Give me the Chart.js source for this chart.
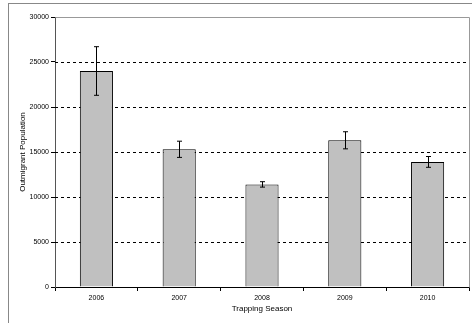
<!DOCTYPE html>
<html>
<head>
<meta charset="utf-8">
<script src="https://cdn.jsdelivr.net/npm/chart.js@4"></script>
<style>
  body { margin: 0; background: #fff; }
  #wrap { position: relative; width: 472px; height: 323px; }
  #frame { position: absolute; left: 8px; top: 3px; right: 0; bottom: 0;
           border-left: 1px solid #888; border-top: 1px solid #888; }
  canvas { position: absolute; left: 0; top: 0; }
</style>
</head>
<body>
<div id="wrap">
  <div id="frame"></div>
  <canvas id="chart" width="472" height="323"></canvas>
</div>
<script>
// datos
const seasons = ['2006', '2007', '2008', '2009', '2010'];
const population = [24000, 15300, 11400, 16300, 13900];
const popError = [2700, 900, 300, 950, 600];
const yTicks = [0, 5000, 10000, 15000, 20000, 25000, 30000];

const fontSmall = { family: 'Liberation Sans, Arial, sans-serif', size: 7 };

// barras de error
const errorBars = {
    id: 'errorBars',
    afterDatasetsDraw(chart) {
        const ctx = chart.ctx;
        const y = chart.scales.y;
        const meta = chart.getDatasetMeta(0);
        ctx.save();
        ctx.strokeStyle = '#000';
        ctx.lineWidth = 1;
        meta.data.forEach((bar, i) => {
            const x = Math.round(bar.x) + 0.5;
            const top = y.getPixelForValue(population[i] + popError[i]);
            const bot = y.getPixelForValue(population[i] - popError[i]);
            ctx.beginPath();
            ctx.moveTo(x, top); ctx.lineTo(x, bot);
            ctx.moveTo(x - 2.5, top); ctx.lineTo(x + 2.5, top);
            ctx.moveTo(x - 2.5, bot); ctx.lineTo(x + 2.5, bot);
            ctx.stroke();
        });
        ctx.restore();
    }
};

// borde del area y lineas de rejilla discontinuas
const plotBorder = {
    id: 'plotBorder',
    beforeDatasetsDraw(chart) {
        const a = chart.chartArea;
        const y = chart.scales.y;
        const ctx = chart.ctx;
        ctx.save();
        ctx.lineWidth = 1;
        ctx.strokeStyle = '#000';
        ctx.setLineDash([3, 3]);
        yTicks.forEach(v => {
            if (v <= 0 || v >= 30000) return;
            const py = Math.round(y.getPixelForValue(v)) + 0.5;
            ctx.beginPath();
            ctx.moveTo(a.left, py);
            ctx.lineTo(a.right, py);
            ctx.stroke();
        });
        ctx.setLineDash([]);
        ctx.strokeStyle = '#999';
        ctx.beginPath();
        ctx.moveTo(Math.round(a.left) + 0.5, Math.round(a.top) + 0.5);
        ctx.lineTo(Math.round(a.right) + 0.5, Math.round(a.top) + 0.5);
        ctx.lineTo(Math.round(a.right) + 0.5, Math.round(a.bottom) + 0.5);
        ctx.stroke();
        ctx.restore();
    }
};

new Chart(document.getElementById('chart'), {
    type: 'bar',
    data: {
        labels: seasons,
        datasets: [{
            data: population,
            backgroundColor: '#c0c0c0',
            borderColor: '#000',
            borderWidth: 1,
            barPercentage: 0.4,
            categoryPercentage: 1
        }]
    },
    options: {
        responsive: false,
        animation: false,
        layout: { padding: { top: 17, right: 3, left: 0, bottom: 0 } },
        plugins: {
            legend: { display: false },
            tooltip: { enabled: false }
        },
        scales: {
            x: {
                offset: true,
                grid: {
                    offset: true,
                    drawOnChartArea: false,
                    tickLength: 4,
                    tickColor: '#000'
                },
                border: { color: '#000' },
                ticks: { color: '#000', font: fontSmall, padding: 3, maxRotation: 0 },
                title: {
                    display: true,
                    text: 'Trapping Season',
                    color: '#000',
                    font: { family: 'Liberation Sans, Arial, sans-serif', size: 8 },
                    padding: { top: 0, bottom: 9 }
                },
                afterFit(scale) { scale.height = 36; }
            },
            y: {
                min: 0,
                max: 30000,
                afterBuildTicks(scale) { scale.ticks = yTicks.map(v => ({ value: v })); },
                grid: {
                    drawOnChartArea: false,
                    tickLength: 4,
                    tickColor: '#000'
                },
                border: { color: '#555' },
                ticks: {
                    color: '#000',
                    font: fontSmall,
                    padding: 2,
                    callback: v => String(v)
                },
                title: {
                    display: true,
                    text: 'Outmigrant Population',
                    color: '#000',
                    font: { family: 'Liberation Sans, Arial, sans-serif', size: 8 },
                    padding: { top: 18, bottom: 0 }
                },
                afterFit(scale) { scale.width = 55; }
            }
        }
    },
    plugins: [plotBorder, errorBars]
});
</script>
</body>
</html>
